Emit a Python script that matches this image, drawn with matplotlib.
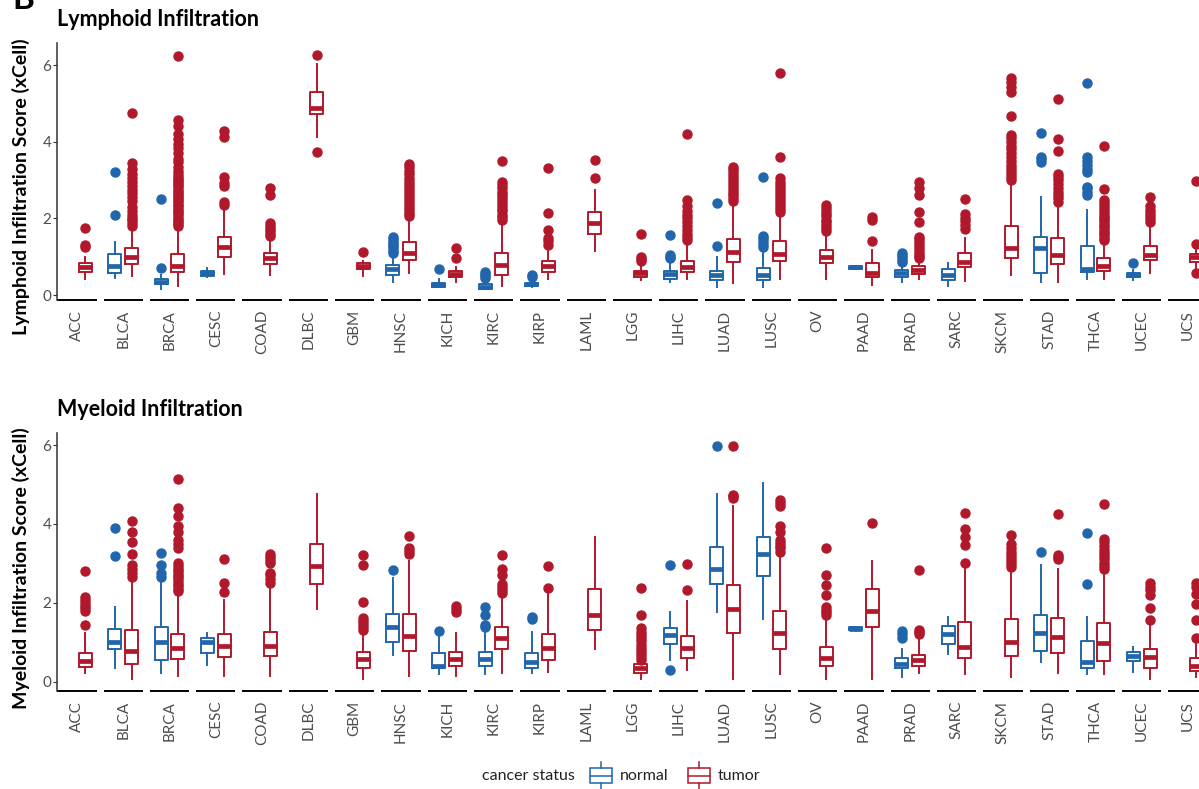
import matplotlib
matplotlib.use("Agg")
import matplotlib.pyplot as plt
from matplotlib.patches import Rectangle
from matplotlib.lines import Line2D

plt.rcParams['font.family'] = ['Lato', 'DejaVu Sans']

# Types de cancer (TCGA)
cancers = ["ACC", "BLCA", "BRCA", "CESC", "COAD", "DLBC", "GBM", "HNSC", "KICH", "KIRC",
           "KIRP", "LAML", "LGG", "LIHC", "LUAD", "LUSC", "OV", "PAAD", "PRAD", "SARC",
           "SKCM", "STAD", "THCA", "UCEC", "UCS"]

# Boites : (moustache basse, Q1, mediane, Q3, moustache haute), None si pas d'echantillon
lym_normal = [None, (0.45, 0.57, 0.77, 1.07, 1.39), (0.17, 0.28, 0.35, 0.43, 0.52),
              (0.46, 0.50, 0.57, 0.63, 0.70), None, None, None, (0.35, 0.52, 0.67, 0.78, 1.00),
              (0.20, 0.22, 0.26, 0.32, 0.41), (0.15, 0.17, 0.22, 0.28, 0.40),
              (0.20, 0.23, 0.28, 0.32, 0.39), None, None, (0.35, 0.43, 0.55, 0.63, 0.85),
              (0.20, 0.39, 0.51, 0.63, 1.00), (0.20, 0.39, 0.51, 0.71, 1.09), None,
              (0.68, 0.68, 0.72, 0.76, 0.76), (0.35, 0.48, 0.57, 0.65, 0.80),
              (0.23, 0.39, 0.52, 0.67, 0.83), None, (0.35, 0.57, 1.22, 1.52, 2.57),
              (0.41, 0.61, 0.67, 1.28, 2.23), (0.38, 0.46, 0.51, 0.57, 0.65), None]
lym_normal_out = [[], [2.08, 3.22], [0.71, 2.5], [], [], [], [],
                  [1.1, 1.16, 1.22, 1.28, 1.33, 1.38, 1.45, 1.52], [0.68], [0.45, 0.5, 0.55, 0.6],
                  [0.48, 0.52], [], [], [0.96, 1.0, 1.04, 1.57], [1.29, 2.41],
                  [1.25, 1.33, 1.4, 1.48, 1.55, 3.09], [], [], [0.85, 0.92, 0.98, 1.05, 1.1], [],
                  [], [3.48, 3.55, 3.61, 4.22],
                  [2.62, 2.7, 2.78, 2.83, 3.22, 3.3, 3.4, 3.5, 3.61, 5.54], [0.83], []]

lym_tumor = [(0.43, 0.59, 0.74, 0.83, 1.00), (0.50, 0.81, 0.98, 1.22, 1.75),
             (0.23, 0.59, 0.77, 1.07, 1.75), (0.55, 0.98, 1.24, 1.52, 2.25),
             (0.52, 0.81, 0.96, 1.10, 1.45), (4.13, 4.71, 4.89, 5.30, 6.04),
             (0.50, 0.67, 0.76, 0.83, 0.90), (0.57, 0.91, 1.09, 1.39, 2.00),
             (0.35, 0.46, 0.55, 0.63, 0.72), (0.23, 0.52, 0.78, 1.10, 1.90),
             (0.41, 0.59, 0.76, 0.89, 1.20), (1.16, 1.59, 1.89, 2.17, 2.74),
             (0.39, 0.48, 0.57, 0.63, 0.80), (0.41, 0.59, 0.74, 0.90, 1.35),
             (0.32, 0.85, 1.13, 1.45, 2.35), (0.41, 0.89, 1.07, 1.42, 2.13),
             (0.41, 0.84, 1.00, 1.17, 1.60), (0.26, 0.48, 0.57, 0.84, 1.17),
             (0.41, 0.55, 0.65, 0.76, 0.90), (0.37, 0.72, 0.87, 1.10, 1.50),
             (0.52, 0.96, 1.22, 1.81, 3.00), (0.35, 0.81, 1.04, 1.48, 2.40),
             (0.41, 0.63, 0.77, 0.96, 1.38), (0.58, 0.91, 1.04, 1.28, 1.78),
             (0.70, 0.87, 0.98, 1.07, 1.20)]
lym_tumor_out = [
    [1.25, 1.3, 1.76],
    [1.8, 1.88, 1.95, 2.02, 2.1, 2.18, 2.3, 2.45, 2.55, 2.65, 2.75, 2.85, 2.95, 3.05, 3.15,
     3.3, 3.45, 4.76],
    [1.8, 1.86, 1.9, 1.97, 2.02, 2.08, 2.13, 2.2, 2.24, 2.31, 2.36, 2.42, 2.47, 2.53, 2.58,
     2.64, 2.7, 2.74, 2.81, 2.86, 2.92, 2.97, 3.03, 3.08, 3.15, 3.24, 3.35, 3.46, 3.55, 3.7,
     3.83, 3.95, 4.06, 4.2, 4.4, 4.57, 6.23],
    [2.35, 2.43, 2.85, 2.92, 3.08, 4.13, 4.28],
    [1.55, 1.6, 1.66, 1.72, 1.8, 1.88, 2.6, 2.8],
    [3.74, 6.26],
    [1.11],
    [2.05, 2.12, 2.2, 2.27, 2.35, 2.42, 2.5, 2.58, 2.66, 2.74, 2.82, 2.9, 2.98, 3.06, 3.15,
     3.24, 3.34, 3.42],
    [0.96, 1.22],
    [1.96, 2.03, 2.1, 2.18, 2.25, 2.32, 2.4, 2.48, 2.55, 2.63, 2.7, 2.78, 2.86, 2.96, 3.5],
    [1.3, 1.4, 1.48, 1.7, 2.15, 3.32],
    [3.06, 3.51],
    [0.88, 0.93, 1.0, 1.59],
    [1.43, 1.52, 1.6, 1.7, 1.8, 1.9, 2.0, 2.1, 2.2, 2.32, 2.48, 4.19],
    [2.45, 2.52, 2.6, 2.67, 2.74, 2.82, 2.9, 2.97, 3.05, 3.13, 3.2, 3.28, 3.35],
    [2.17, 2.24, 2.32, 2.4, 2.48, 2.56, 2.64, 2.72, 2.8, 2.88, 2.96, 3.04, 3.59, 5.8],
    [1.68, 1.75, 1.82, 1.9, 1.97, 2.05, 2.12, 2.2, 2.28, 2.35],
    [1.42, 1.96, 2.04],
    [0.96, 1.02, 1.08, 1.15, 1.22, 1.3, 1.38, 1.45, 1.52, 1.91, 2.17, 2.6, 2.78, 2.95],
    [1.72, 1.82, 1.92, 2.02, 2.12, 2.5],
    [3.0, 3.08, 3.16, 3.24, 3.32, 3.4, 3.5, 3.6, 3.7, 3.8, 3.9, 4.0, 4.1, 4.17, 4.67, 5.3,
     5.42, 5.55, 5.65],
    [2.43, 2.52, 2.6, 2.7, 2.8, 2.9, 3.0, 3.08, 3.17, 3.76, 4.06, 5.11],
    [1.44, 1.5, 1.56, 1.62, 1.68, 1.74, 1.8, 1.86, 1.92, 1.98, 2.04, 2.1, 2.17, 2.24, 2.32,
     2.4, 2.48, 2.76, 3.9],
    [1.91, 1.98, 2.06, 2.14, 2.22, 2.32, 2.57],
    [0.58, 1.32, 2.97]]

mye_normal = [None, (0.34, 0.82, 1.01, 1.34, 1.90), (0.23, 0.55, 1.01, 1.38, 2.53),
              (0.42, 0.72, 1.01, 1.10, 1.24), None, None, None, (0.68, 1.01, 1.39, 1.72, 2.64),
              (0.19, 0.34, 0.41, 0.72, 1.16), (0.19, 0.40, 0.57, 0.76, 1.31),
              (0.23, 0.34, 0.51, 0.72, 1.27), None, None, (0.55, 0.96, 1.18, 1.37, 1.76),
              (1.77, 2.47, 2.85, 3.42, 4.77), (1.60, 2.69, 3.25, 3.66, 5.04), None,
              (1.28, 1.31, 1.33, 1.38, 1.38), (0.13, 0.34, 0.46, 0.59, 0.83),
              (0.70, 0.96, 1.20, 1.41, 1.65), None, (0.49, 0.78, 1.24, 1.68, 2.97),
              (0.19, 0.36, 0.49, 1.04, 1.65), (0.25, 0.53, 0.66, 0.76, 0.87), None]
mye_normal_out = [[], [3.19, 3.9], [2.65, 2.75, 2.95, 3.27], [], [], [], [], [2.82], [1.28],
                  [1.39, 1.45, 1.69, 1.9], [1.6, 1.65], [], [], [0.3, 2.95], [5.97], [], [],
                  [], [1.1, 1.2, 1.28], [], [], [3.3], [2.47, 3.78], [], []]

mye_tumor = [(0.21, 0.38, 0.53, 0.72, 1.23), (0.08, 0.44, 0.78, 1.31, 2.53),
             (0.14, 0.57, 0.85, 1.20, 2.24), (0.14, 0.62, 0.90, 1.20, 2.07),
             (0.14, 0.65, 0.90, 1.27, 2.40), (1.84, 2.48, 2.93, 3.48, 4.76),
             (0.08, 0.36, 0.57, 0.76, 1.18), (0.15, 0.79, 1.17, 1.72, 3.05),
             (0.15, 0.40, 0.57, 0.76, 1.24), (0.21, 0.82, 1.10, 1.38, 2.15),
             (0.25, 0.55, 0.86, 1.20, 2.25), (0.82, 1.31, 1.69, 2.35, 3.66),
             (0.06, 0.23, 0.34, 0.45, 0.48), (0.30, 0.61, 0.85, 1.17, 2.04),
             (0.08, 1.23, 1.84, 2.45, 4.45), (0.19, 0.82, 1.24, 1.80, 3.17),
             (0.06, 0.40, 0.61, 0.89, 1.65), (0.08, 1.38, 1.79, 2.35, 3.05),
             (0.23, 0.41, 0.55, 0.69, 1.14), (0.19, 0.61, 0.89, 1.52, 2.87),
             (0.13, 0.65, 1.01, 1.58, 2.87), (0.21, 0.72, 1.14, 1.62, 2.87),
             (0.19, 0.53, 0.97, 1.48, 2.81), (0.06, 0.34, 0.63, 0.83, 1.44),
             (0.13, 0.27, 0.40, 0.59, 0.97)]
mye_tumor_out = [
    [1.44, 1.8, 1.87, 1.93, 2.0, 2.08, 2.15, 2.8],
    [2.65, 2.75, 2.85, 2.95, 3.25, 3.55, 3.8, 4.08],
    [2.3, 2.36, 2.42, 2.48, 2.55, 2.62, 2.68, 2.74, 2.8, 2.87, 2.94, 3.0, 3.4, 3.5, 3.6, 3.8,
     3.95, 4.2, 4.4, 5.15],
    [2.28, 2.51, 3.1],
    [2.5, 2.6, 2.7, 2.75, 3.0, 3.08, 3.15, 3.25],
    [],
    [1.3, 1.38, 1.46, 1.55, 1.62, 2.03, 2.95, 3.2],
    [3.25, 3.32, 3.4, 3.7],
    [1.78, 1.85, 1.92],
    [2.25, 2.32, 2.4, 2.48, 2.7, 2.85, 3.2],
    [2.37, 2.94],
    [],
    [0.55, 0.62, 0.7, 0.78, 0.86, 0.94, 1.02, 1.1, 1.18, 1.27, 1.37, 1.7, 2.37],
    [2.32, 2.98],
    [4.65, 4.7, 4.74, 5.97],
    [3.3, 3.38, 3.45, 3.52, 3.6, 3.8, 3.95, 4.45, 4.52, 4.6],
    [1.7, 1.77, 1.83, 1.9, 2.2, 2.45, 2.7, 3.38],
    [4.03],
    [1.2, 1.25, 1.3, 2.82],
    [3.02, 3.46, 3.68, 3.86, 4.27],
    [2.9, 2.98, 3.06, 3.14, 3.22, 3.3, 3.4, 3.5, 3.72],
    [3.1, 3.15, 3.2, 4.25],
    [2.86, 2.94, 3.02, 3.1, 3.18, 3.26, 3.35, 3.44, 3.53, 3.62, 4.5],
    [1.56, 1.88, 2.2, 2.32, 2.4, 2.49],
    [1.11, 1.56, 1.96, 2.22, 2.4, 2.5]]

bleu = "#2166ac"
rouge = "#b2182b"
gris = "#4d4d4d"

W, H = 1199, 789
fig = plt.figure(figsize=(W / 100, H / 100), dpi=100)


def px(x, y):
    # pixels (origine en haut a gauche) -> coordonnees figure
    return x / W, 1 - y / H


def tracer_boites(ax, boites, points, decalage, couleur):
    stats, positions = [], []
    for i, b in enumerate(boites):
        if b is None:
            continue
        lo, q1, med, q3, hi = b
        stats.append(dict(whislo=lo, q1=q1, med=med, q3=q3, whishi=hi, fliers=points[i]))
        positions.append(i + decalage)
    ax.bxp(stats, positions=positions, widths=0.28, showcaps=False,
           boxprops=dict(color=couleur, lw=1.4),
           whiskerprops=dict(color=couleur, lw=1.4),
           medianprops=dict(color=couleur, lw=3.4, solid_capstyle="butt"),
           flierprops=dict(marker="o", markerfacecolor=couleur, markeredgecolor=couleur,
                           markersize=6.5))


def panneau(top, bottom, normal, normal_out, tumor, tumor_out, ylim, titre, ylabel, ylab_y):
    x0, y0 = px(57, bottom)
    ax = fig.add_axes([x0, y0, 1151 / W, (bottom - top) / H])
    tracer_boites(ax, normal, normal_out, -0.18, bleu)
    tracer_boites(ax, tumor, tumor_out, 0.18, rouge)

    # un segment d'axe x par type de cancer
    for i in range(len(cancers)):
        ax.plot([i - 0.425, i + 0.425], [0, 0], transform=ax.get_xaxis_transform(),
                color="black", lw=1.4, clip_on=False, solid_capstyle="butt")

    ax.set_xlim(-0.43, 24.43)
    ax.set_ylim(*ylim)
    for s in ["top", "right", "bottom"]:
        ax.spines[s].set_visible(False)
    ax.spines["left"].set_color("#333333")
    ax.spines["left"].set_linewidth(1.1)
    ax.set_xticks(range(len(cancers)))
    ax.set_xticklabels(cancers, rotation=90, color=gris, fontsize=11)
    ax.tick_params(axis="x", length=0, pad=7)
    ax.set_yticks([0, 2, 4, 6])
    ax.tick_params(axis="y", length=3, color="#333333", labelcolor=gris, labelsize=11, pad=1)
    ax.patch.set_alpha(0)

    tx, ty = px(57, top - 23)
    fig.text(tx, ty, titre, fontsize=15.5, fontweight="bold", va="center", ha="left")
    lx, ly = px(21, ylab_y)
    fig.text(lx, ly, ylabel, fontsize=14, fontweight="bold", rotation=90,
             va="center", ha="center")
    return ax


panneau(43, 300, lym_normal, lym_normal_out, lym_tumor, lym_tumor_out, (-0.13, 6.575),
        "Lymphoid Infiltration", "Lymphoid Infiltration Score (xCell)", 187)
panneau(433, 691, mye_normal, mye_normal_out, mye_tumor, mye_tumor_out, (-0.235, 6.305),
        "Myeloid Infiltration", "Myeloid Infiltration Score (xCell)", 568)

# lettre du panneau
bx, by = px(12, 9)
fig.text(bx, by, "B", fontsize=24, fontweight="bold", va="baseline", ha="left")


# legende
def icone(x, couleur):
    rx, ry = px(x, 783)
    fig.patches.append(Rectangle((rx, ry), 22 / W, 15 / H, transform=fig.transFigure,
                                 fill=False, edgecolor=couleur, lw=1.1))
    a, b = px(x, 776)
    c, _ = px(x + 22, 776)
    fig.lines.append(Line2D([a, c], [b, b], transform=fig.transFigure, color=couleur, lw=1.1))
    m, h1 = px(x + 11, 762)
    _, h2 = px(x + 11, 768)
    fig.lines.append(Line2D([m, m], [h1, h2], transform=fig.transFigure, color=couleur, lw=1.1))
    _, b1 = px(x + 11, 783)
    _, b2 = px(x + 11, 789)
    fig.lines.append(Line2D([m, m], [b1, b2], transform=fig.transFigure, color=couleur, lw=1.1))


lx, ly = px(482, 776)
fig.text(lx, ly, "cancer status", fontsize=11.5, va="center", ha="left", color="#222222")
icone(590, bleu)
lx, ly = px(620, 776)
fig.text(lx, ly, "normal", fontsize=11.5, va="center", ha="left", color="#222222")
icone(688, rouge)
lx, ly = px(718, 776)
fig.text(lx, ly, "tumor", fontsize=11.5, va="center", ha="left", color="#222222")

fig.savefig("out.png", dpi=100)
